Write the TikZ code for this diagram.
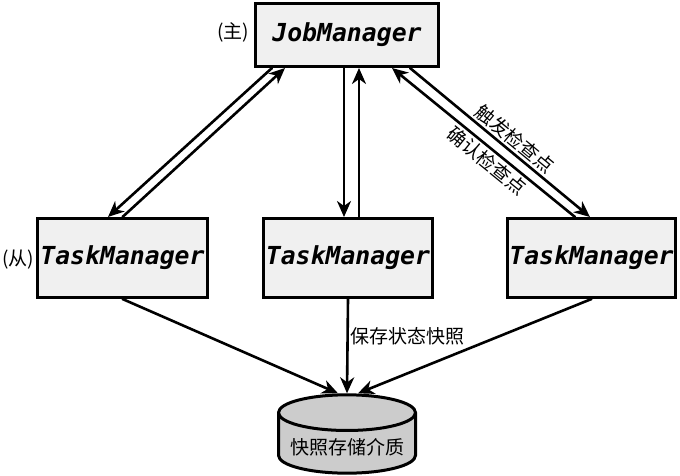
\documentclass[tikz,border=0pt]{standalone}
\usepackage{fontspec}
\setmonofont{DejaVu Sans Mono}
\newfontfamily\cjk{Noto Sans CJK SC}
\usetikzlibrary{arrows.meta,shapes.geometric}

\begin{document}
\begin{tikzpicture}[line cap=round,x=0.5pt,y=-0.5pt,
  box/.style={draw,line width=1.5pt,fill=black!6,inner xsep=1pt,minimum height=39.5pt,font=\ttfamily\bfseries\itshape\fontsize{12.4}{14}\selectfont},
  link/.style={line width=1.3pt,-{Stealth[length=8pt,width=7pt,inset=2.5pt]}},
  lbl/.style={font=\cjk\fontsize{9.5}{11}\selectfont,inner sep=1pt}]
\useasboundingbox (0,0) rectangle (680,476);
\node[box,minimum width=91.5pt,minimum height=31.5pt] (jm) at (347,35) {JobManager};
\node[box,minimum width=85pt] (tm1) at (122.5,258) {TaskManager};
\node[box,minimum width=83pt] (tm2) at (348,258) {TaskManager};
\node[box,minimum width=83pt] (tm3) at (591.5,258) {TaskManager};
\node[cylinder,shape border rotate=90,draw,line width=1.5pt,fill=black!20,aspect=0.28,minimum width=68.5pt,minimum height=38pt,anchor=shape center,font=\cjk\fontsize{9.5}{11}\selectfont] (store) at (347,434) {快照存储介质};
\node[lbl] (mainlbl) at (233,32) {(主)};
\node[lbl] (sublbl) at (18,260) {(从)};
% JobManager <-> TaskManager
\draw[link] ([xshift=-37.5pt]jm.south) -- ([xshift=-7.25pt]tm1.north);
\draw[link] (tm1.north) -- ([xshift=-31pt]jm.south);
\draw[link] ([xshift=-1.5pt]jm.south) -- ([xshift=-2pt]tm2.north);
\draw[link] ([xshift=5.5pt]tm2.north) -- ([xshift=6pt]jm.south);
\draw[link] ([xshift=31.5pt]jm.south) -- node[lbl,sloped,above,pos=0.54] {触发检查点} ([xshift=-0.75pt]tm3.north);
\draw[link] ([xshift=-8.25pt]tm3.north) -- node[lbl,sloped,below,pos=0.44] {确认检查点} ([xshift=22.5pt]jm.south);
% snapshots
\draw[link] (tm1.south) -- ([xshift=-4.5pt]store.north);
\draw[link] (tm2.south) -- node[lbl,right,pos=0.4] {保存状态快照} (store.north);
\draw[link] (tm3.south) -- ([xshift=5.5pt]store.north);
\end{tikzpicture}
\end{document}
